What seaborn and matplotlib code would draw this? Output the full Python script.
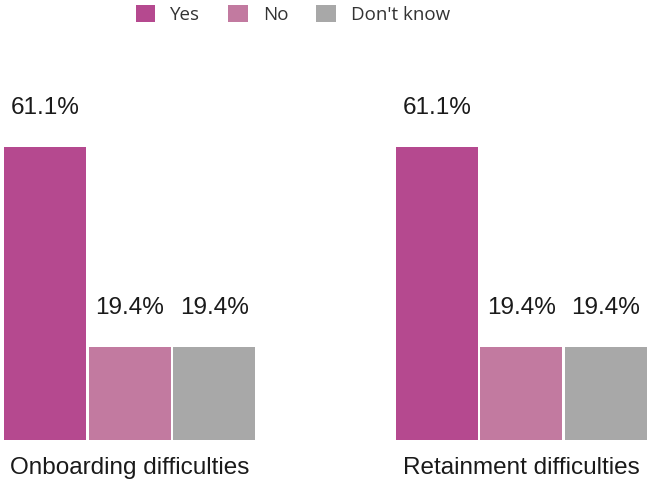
import matplotlib
matplotlib.use("Agg")
import matplotlib.pyplot as plt
import seaborn as sns
import pandas as pd
from matplotlib.patches import Patch

categories = ["Onboarding difficulties", "Retainment difficulties"]
answers = ["Yes", "No", "Don't know"]
yes_vals = [61.1, 61.1]
no_vals = [19.4, 19.4]
dk_vals = [19.4, 19.4]
colors = ["#b5498f", "#c27aa0", "#a8a8a8"]

rows = []
for i, c in enumerate(categories):
    for a, vals in zip(answers, [yes_vals, no_vals, dk_vals]):
        rows.append({"category": c, "answer": a, "value": vals[i]})
df = pd.DataFrame(rows)

sns.set_theme(style="white")
plt.rcParams["font.family"] = ["Liberation Sans", "DejaVu Sans"]

fig = plt.figure(figsize=(6.48, 4.83), dpi=100)
ax = fig.add_axes([3/648, 43/483, 645/648, 336/483])

w = 0.6475
sns.barplot(data=df, x="category", y="value", hue="answer", hue_order=answers,
            palette=colors, width=w, gap=0.03, ax=ax, legend=False,
            edgecolor="none", saturation=1)

ax.set_xlim(-w/2, 1 + w/2)
ax.set_ylim(0, 70)
for container in ax.containers:
    for bar in container:
        h = bar.get_height()
        ax.annotate(f"{h:.1f}%", (bar.get_x() + bar.get_width()/2, h),
                    xytext=(0, 28), textcoords="offset points",
                    ha="center", va="center", fontsize=17.5, color="#1a1a1a",
                    annotation_clip=False)

ax.set_xlabel("")
ax.set_ylabel("")
ax.set_yticks([])
ax.tick_params(axis="x", length=0, pad=12, labelsize=17.5, labelcolor="#1a1a1a")
for s in ax.spines.values():
    s.set_visible(False)

handles = [Patch(facecolor=c, edgecolor="none") for c in colors]
fig.legend(handles, answers, loc="upper center", bbox_to_anchor=(0.452, 1.025),
           ncol=3, frameon=False, prop={"family": "Open Sans", "size": 13.5},
           handlelength=1.05, handleheight=1.05, columnspacing=1.49, handletextpad=0.8,
           labelcolor="#333333")

fig.savefig("out.png", dpi=100)
